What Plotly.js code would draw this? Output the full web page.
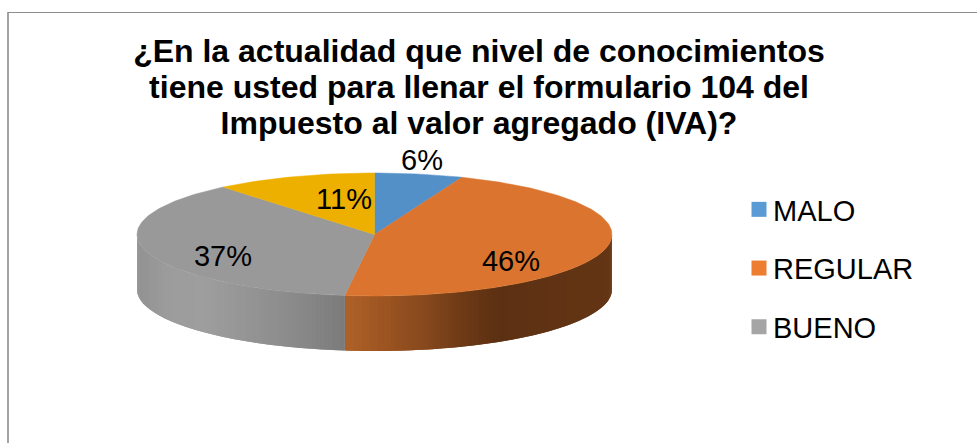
<!DOCTYPE html>
<html>
<head>
<meta charset="utf-8">
<script src="https://cdn.plot.ly/plotly-3.0.1.min.js"></script>
<style>html,body{margin:0;padding:0;background:#fff}#c{width:977px;height:443px}</style>
</head>
<body>
<div id="c"></div>
<script>
var categories = ["MALO", "REGULAR", "BUENO", "MUY BUENO"];
var values = [6, 46, 37, 11];
var sliceColors = ["#5490C8", "#DB742E", "#999999", "#EEB000"];
var legendColors = ["#5B9BD5", "#ED7D31", "#A5A5A5"];
var labelX = [422, 511, 223, 344];
var labelY = [163, 264, 259, 202];

var W = 977, H = 443, CX = 374.5, CY = 234.5, RX = 237.5, RY = 61.5, DEPTH = 55;
var total = values.reduce(function(a, b){ return a + b; }, 0);
function px(t){ return CX + RX * Math.sin(t * Math.PI / 180); }
function py(t){ return CY - RY * Math.cos(t * Math.PI / 180); }

var traces = [];
var edges = [0];
values.forEach(function(v, i){ edges.push(edges[i] + v / total * 360); });

function mix(stops, x){
  for (var i = 0; i < stops.length - 1; i++) {
    if (x <= stops[i + 1][0]) {
      var f = Math.max(0, (x - stops[i][0]) / (stops[i + 1][0] - stops[i][0]));
      var c = [1, 2, 3].map(function(k){ return Math.round(stops[i][k] + f * (stops[i + 1][k] - stops[i][k])); });
      return "rgb(" + c.join(",") + ")";
    }
  }
  var l = stops[stops.length - 1];
  return "rgb(" + l[1] + "," + l[2] + "," + l[3] + ")";
}
var wallShades = {
  1: [[347,172,96,40],[380,156,84,33],[420,136,73,29],[460,108,57,22],[495,92,48,18],[612,100,54,21]],
  2: [[137,146,146,146],[165,156,156,156],[200,158,158,158],[270,143,143,143],[320,130,130,130],[347,120,120,120]]
};

// front wall strips, only the part of each slice facing the viewer;
// each strip overlaps the previous one so no seams show
[1, 2].forEach(function(i){
  var a = Math.max(edges[i], 90), b = Math.min(edges[i + 1], 270), step = 1;
  for (var t = a; t < b; t += step) {
    var s = Math.max(a, t - step), e = Math.min(t + step, b);
    var n = 4, xs = [], ys = [], k;
    for (k = 0; k <= n; k++) { var u = s + (e - s) * k / n; xs.push(px(u)); ys.push(py(u)); }
    for (k = n; k >= 0; k--) { var w = s + (e - s) * k / n; xs.push(px(w)); ys.push(py(w) + DEPTH); }
    var col = mix(wallShades[i], px(t + step / 2));
    traces.push({x: xs, y: ys, mode: "lines", fill: "toself", fillcolor: col,
      line: {color: col, width: 0}, showlegend: false, hoverinfo: "skip"});
  }
});

// top faces
values.forEach(function(v, i){
  var xs = [CX], ys = [CY];
  for (var t = edges[i]; t < edges[i + 1]; t += 1) { xs.push(px(t)); ys.push(py(t)); }
  xs.push(px(edges[i + 1]), CX); ys.push(py(edges[i + 1]), CY);
  traces.push({x: xs, y: ys, mode: "lines", fill: "toself", fillcolor: sliceColors[i],
    line: {color: sliceColors[i], width: 0.5}, name: categories[i], showlegend: false, hoverinfo: "name"});
});

// value labels
traces.push({x: labelX, y: labelY, mode: "text",
  text: values.map(function(v){ return v + "%"; }), textposition: "middle center",
  textfont: {family: "Liberation Sans", size: 29, color: "#000000"},
  showlegend: false, hoverinfo: "skip"});

// legend entries
legendColors.forEach(function(c, i){
  traces.push({x: [null], y: [null], mode: "markers", name: categories[i], legendgroup: categories[i],
    marker: {symbol: "square", size: 15, color: c}, showlegend: true, hoverinfo: "skip"});
});

var layout = {
  width: W, height: H, autosize: false,
  margin: {l: 0, r: 0, t: 0, b: 0, pad: 0},
  paper_bgcolor: "#ffffff", plot_bgcolor: "#ffffff",
  font: {family: "Liberation Sans", color: "#000000"},
  title: {
    text: "¿En la actualidad que nivel de conocimientos<br>tiene usted para llenar el formulario 104 del<br>Impuesto al valor agregado (IVA)?",
    font: {family: "Liberation Sans", size: 32, color: "#000000", weight: "bold"},
    x: 479 / W, xanchor: "center", y: 1 - 62 / H, yanchor: "top"
  },
  xaxis: {range: [0, W], visible: false, fixedrange: true},
  yaxis: {range: [H, 0], visible: false, fixedrange: true},
  showlegend: true,
  legend: {
    x: 739 / W, xanchor: "left", y: 1 - 184 / H, yanchor: "top",
    font: {family: "Liberation Sans", size: 29, color: "#000000"},
    bgcolor: "rgba(0,0,0,0)", borderwidth: 0, tracegroupgap: 18, itemwidth: 30
  },
  shapes: [
    {type: "line", xref: "paper", yref: "paper", x0: 8 / W, x1: 8 / W, y0: 0, y1: 1 - 12 / H,
     line: {color: "#A3A3A3", width: 2}},
    {type: "line", xref: "paper", yref: "paper", x0: 8 / W, x1: 1, y0: 1 - 12.5 / H, y1: 1 - 12.5 / H,
     line: {color: "#8E8E8E", width: 1}}
  ]
};
Plotly.newPlot("c", traces, layout, {displayModeBar: false}).then(function(gd){
  // the reference sets its title lines closer together and its legend text nearer the swatch
  gd.querySelectorAll(".gtitle tspan.line").forEach(function(l, i){
    l.setAttribute("dy", (i * 1.125) + "em");
  });
  gd.querySelectorAll(".legendtext").forEach(function(t){
    t.setAttribute("x", parseFloat(t.getAttribute("x")) - 6);
  });
});
</script>
</body>
</html>
